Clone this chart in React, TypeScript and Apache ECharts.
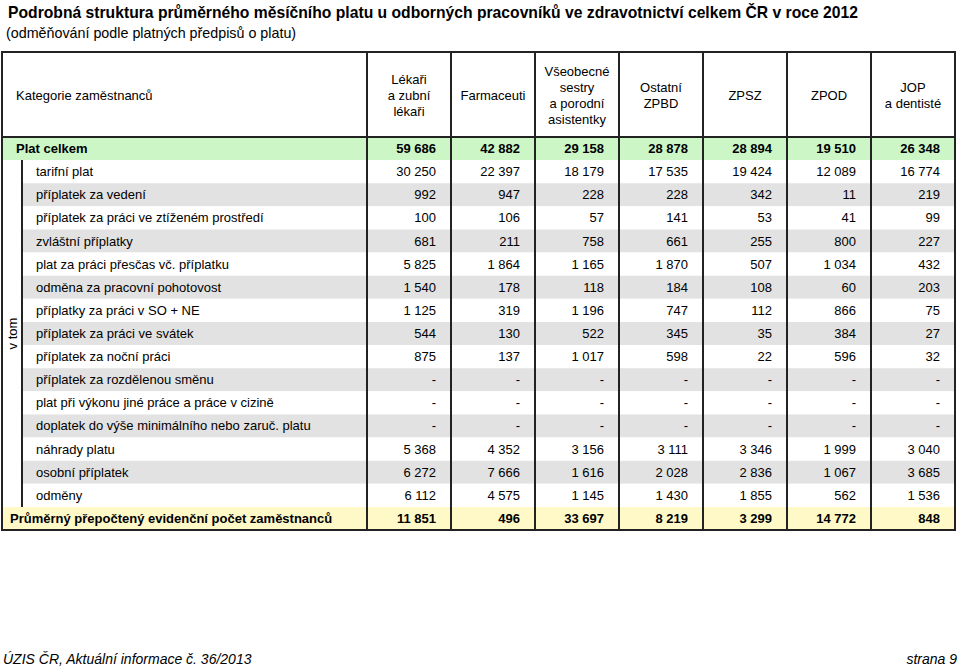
import React, { useEffect, useRef } from 'react';
import * as echarts from 'echarts';

const titleText = 'Podrobná struktura průměrného měsíčního platu u odborných pracovníků ve zdravotnictví celkem ČR v roce 2012';
const subtitleText = '(odměňování podle platných předpisů o platu)';
const footerLeft = 'ÚZIS ČR, Aktuální informace č. 36/2013';
const footerRight = 'strana 9';
const firstHeader = 'Kategorie zaměstnanců';
const groupLabel = 'v tom';

const columns = [
  'Lékaři\na zubní\nlékaři',
  'Farmaceuti',
  'Všeobecné\nsestry\na porodní\nasistentky',
  'Ostatní\nZPBD',
  'ZPSZ',
  'ZPOD',
  'JOP\na dentisté',
];

const rowLabels = [
  'Plat celkem',
  'tarifní plat',
  'příplatek za vedení',
  'příplatek za práci ve ztíženém prostředí',
  'zvláštní příplatky',
  'plat za práci přesčas vč. příplatku',
  'odměna za pracovní pohotovost',
  'příplatky za práci v SO + NE',
  'příplatek za práci ve svátek',
  'příplatek za noční práci',
  'příplatek za rozdělenou směnu',
  'plat při výkonu jiné práce a práce v cizině',
  'doplatek do výše minimálního nebo zaruč. platu',
  'náhrady platu',
  'osobní příplatek',
  'odměny',
  'Průměrný přepočtený evidenční počet zaměstnanců',
];

const rowKinds = [
  'total', 'sub', 'sub', 'sub', 'sub', 'sub', 'sub', 'sub', 'sub',
  'sub', 'sub', 'sub', 'sub', 'sub', 'sub', 'sub', 'count',
];

const lekari = [59686, 30250, 992, 100, 681, 5825, 1540, 1125, 544, 875, null, null, null, 5368, 6272, 6112, 11851];
const farmaceuti = [42882, 22397, 947, 106, 211, 1864, 178, 319, 130, 137, null, null, null, 4352, 7666, 4575, 496];
const sestry = [29158, 18179, 228, 57, 758, 1165, 118, 1196, 522, 1017, null, null, null, 3156, 1616, 1145, 33697];
const ostatniZPBD = [28878, 17535, 228, 141, 661, 1870, 184, 747, 345, 598, null, null, null, 3111, 2028, 1430, 8219];
const zpsz = [28894, 19424, 342, 53, 255, 507, 108, 112, 35, 22, null, null, null, 3346, 2836, 1855, 3299];
const zpod = [19510, 12089, 11, 41, 800, 1034, 60, 866, 384, 596, null, null, null, 1999, 1067, 562, 14772];
const jop = [26348, 16774, 219, 99, 227, 432, 203, 75, 27, 32, null, null, null, 3040, 3685, 1536, 848];

const columnValues = [lekari, farmaceuti, sestry, ostatniZPBD, zpsz, zpod, jop];

const FONT = '"Liberation Sans", Arial, Helvetica, sans-serif';
const LINE = '#222222';

function fmt(v: number | null): string {
  if (v === null || v === undefined) return '-';
  return String(v).replace(/\B(?=(\d{3})+(?!\d))/g, ' ');
}

export default function App() {
  const ref = useRef<HTMLDivElement>(null);

  useEffect(() => {
    if (!ref.current) return;
    const chart = echarts.init(ref.current, null, { renderer: 'svg' });

    const rowData = rowLabels.map((_, i) => [0, i]);
    const cellData: number[][] = [];
    columnValues.forEach((col, c) => {
      col.forEach((_, r) => cellData.push([c, r]));
    });

    const option: any = {
      animation: false,
      backgroundColor: '#ffffff',
      title: [
        {
          text: titleText, left: 8, top: 4, padding: 0,
          textStyle: { fontFamily: FONT, fontSize: 15.7, fontWeight: 'bold', color: '#000' },
        },
        {
          text: subtitleText, left: 6, top: 26, padding: 0,
          textStyle: { fontFamily: FONT, fontSize: 14.3, fontWeight: 'normal', color: '#000' },
        },
        {
          text: footerLeft, left: 3, top: 652, padding: 0,
          textStyle: { fontFamily: FONT, fontSize: 14, fontStyle: 'italic', fontWeight: 'normal', color: '#000' },
        },
        {
          text: footerRight, right: 3, top: 652, padding: 0,
          textStyle: { fontFamily: FONT, fontSize: 14, fontStyle: 'italic', fontWeight: 'normal', color: '#000' },
        },
      ],
      grid: { left: 367, right: 5, top: 137, bottom: 138 },
      xAxis: {
        type: 'category',
        data: columns,
        position: 'top',
        axisLine: { show: false },
        axisTick: { show: false },
        splitLine: { show: false },
        axisLabel: {
          interval: 0,
          margin: 42,
          verticalAlign: 'middle',
          lineHeight: 16,
          fontSize: 13,
          fontFamily: FONT,
          color: '#000',
          align: 'center',
        },
      },
      yAxis: {
        type: 'category',
        data: rowLabels,
        inverse: true,
        show: false,
      },
      series: [
        {
          type: 'custom',
          name: 'rows',
          clip: false,
          z: 1,
          data: rowData,
          renderItem: (params: any, api: any) => {
            const row = api.value(1);
            const pt = api.coord([0, row]);
            const h = api.size([0, 1])[1];
            const cs = params.coordSys;
            const kind = rowKinds[row];
            const left = kind === 'sub' ? 22 : 2;
            let fill = row % 2 === 0 ? '#e2e2e2' : '#ffffff';
            if (kind === 'total') fill = '#ccf6c6';
            if (kind === 'count') fill = '#fff9c8';
            const labelX = kind === 'sub' ? 36 : kind === 'total' ? 16 : 10;
            return {
              type: 'group',
              children: [
                {
                  type: 'rect',
                  shape: { x: left, y: pt[1] - h / 2, width: cs.x + cs.width - left, height: h },
                  style: { fill },
                },
                {
                  type: 'text',
                  x: labelX,
                  y: pt[1],
                  style: {
                    text: rowLabels[row],
                    fontFamily: FONT,
                    fontSize: 13,
                    fontWeight: kind === 'sub' ? 'normal' : 'bold',
                    fill: '#000',
                    align: 'left',
                    verticalAlign: 'middle',
                  },
                },
              ],
            };
          },
        },
        {
          type: 'custom',
          name: 'cells',
          clip: false,
          z: 2,
          data: cellData,
          renderItem: (params: any, api: any) => {
            const c = api.value(0);
            const r = api.value(1);
            const pt = api.coord([c, r]);
            const bw = api.size([1, 0])[0];
            const bold = rowKinds[r] !== 'sub';
            return {
              type: 'text',
              x: pt[0] + bw / 2 - 15,
              y: pt[1],
              style: {
                text: fmt(columnValues[c][r]),
                fontFamily: FONT,
                fontSize: 13,
                fontWeight: bold ? 'bold' : 'normal',
                fill: '#000',
                align: 'right',
                verticalAlign: 'middle',
              },
            };
          },
        },
        {
          type: 'custom',
          name: 'frame',
          clip: false,
          z: 3,
          data: [[0, 0]],
          renderItem: (params: any, api: any) => {
            const cs = params.coordSys;
            const top = cs.y - 85;
            const bottom = cs.y + cs.height;
            const right = cs.x + cs.width;
            const bw = api.size([1, 0])[0];
            const rh = api.size([0, 1])[1];
            const children: any[] = [];
            children.push({
              type: 'rect',
              shape: { x: 2, y: top, width: right - 2, height: bottom - top },
              style: { fill: 'none', stroke: LINE, lineWidth: 2 },
            });
            children.push({
              type: 'line',
              shape: { x1: 2, y1: cs.y, x2: right, y2: cs.y },
              style: { stroke: LINE, lineWidth: 2 },
            });
            columns.forEach((_, c) => {
              const x = api.coord([c, 0])[0] - bw / 2;
              children.push({
                type: 'line',
                shape: { x1: x, y1: top, x2: x, y2: bottom },
                style: { stroke: LINE, lineWidth: 2 },
              });
            });
            const subTop = api.coord([0, 1])[1] - rh / 2;
            const subBottom = api.coord([0, rowLabels.length - 2])[1] + rh / 2;
            children.push({
              type: 'line',
              shape: { x1: 22, y1: subTop, x2: 22, y2: subBottom },
              style: { stroke: LINE, lineWidth: 2 },
            });
            children.push({
              type: 'text',
              x: 12,
              y: (subTop + subBottom) / 2,
              rotation: Math.PI / 2,
              style: {
                text: groupLabel,
                fontFamily: FONT,
                fontSize: 13,
                fill: '#000',
                align: 'center',
                verticalAlign: 'middle',
              },
            });
            children.push({
              type: 'text',
              x: 16,
              y: (top + cs.y) / 2 + 1,
              style: {
                text: firstHeader,
                fontFamily: FONT,
                fontSize: 13,
                fill: '#000',
                align: 'left',
                verticalAlign: 'middle',
              },
            });
            return { type: 'group', children };
          },
        },
      ],
    };

    chart.setOption(option);
    return () => {
      chart.dispose();
    };
  }, []);

  return (
    <div
      ref={ref}
      style={{ position: 'fixed', left: 0, top: 0, width: 960, height: 668 }}
    />
  );
}
